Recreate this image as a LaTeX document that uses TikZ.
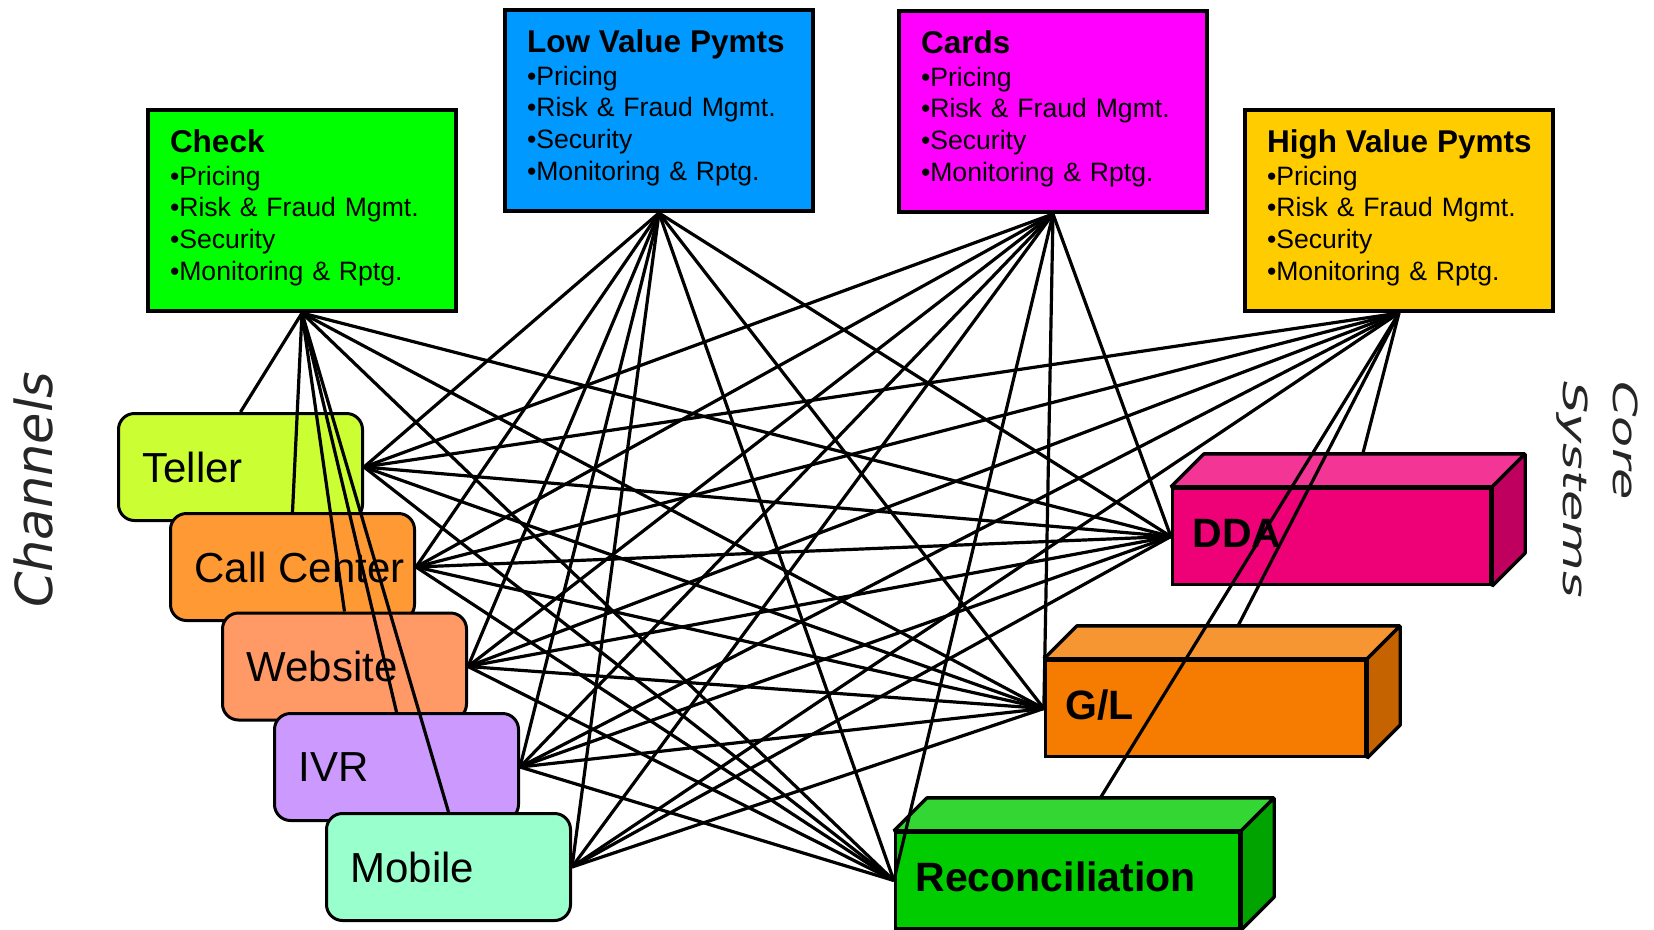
\documentclass[tikz,border=0pt]{standalone}
\usepackage{fontspec}
\setmainfont{Liberation Sans}
\newfontfamily\sidefont{DejaVu Sans}
\usetikzlibrary{positioning,calc}

\definecolor{checkgreen}{HTML}{00FF00}
\definecolor{lowblue}{HTML}{0099FF}
\definecolor{cardpink}{HTML}{FF00FF}
\definecolor{highgold}{HTML}{FFCC00}
\definecolor{tellerlime}{HTML}{CCFF33}
\definecolor{callorange}{HTML}{FF9933}
\definecolor{webpeach}{HTML}{FF9966}
\definecolor{ivrlilac}{HTML}{CC99FF}
\definecolor{mobilemint}{HTML}{99FFCC}
\definecolor{ddafront}{HTML}{EE0077}
\definecolor{ddatop}{HTML}{F33596}
\definecolor{ddaside}{HTML}{BF005F}
\definecolor{glfront}{HTML}{F57C00}
\definecolor{gltop}{HTML}{F59633}
\definecolor{glside}{HTML}{C46300}
\definecolor{recfront}{HTML}{00CC00}
\definecolor{rectop}{HTML}{33D633}
\definecolor{recside}{HTML}{00A300}

\tikzset{
  prodbox/.style={draw, line width=4pt, text width=264pt, inner xsep=22pt, inner ysep=0pt,
    text height=42pt, text depth=159pt, align=left, font=\fontsize{26.6}{31.7}\selectfont},
  chanbox/.style={draw, line width=3pt, rounded corners=16pt, inner xsep=24pt,
    minimum height=107pt, font=\fontsize{42}{48}\selectfont,
    execute at begin node={\hbox to 196pt\bgroup}, execute at end node={\hss\egroup}},
  corebox/.style={draw, line width=3.3pt, inner xsep=20pt, minimum height=96pt,
    text height=22pt, text depth=0pt, align=left, font=\bfseries\fontsize{41}{48}\selectfont},
  link/.style={draw, line width=3.2pt},
  sidelabel/.style={font=\sidefont\itshape\fontsize{51}{58}\selectfont, text=black!85, inner sep=0pt}
}

\newcommand\boxtitle[1]{{\bfseries\fontsize{31.5}{31.7}\selectfont\mbox{#1}}\\[1.3pt]}
\newcommand\coredepth[3]{%
  \filldraw[fill=#2, line width=3.3pt, line join=bevel] (#1.north west) -- ++(33,-33)
    -- ($(#1.north east)+(33,-33)$) -- (#1.north east) -- cycle;
  \filldraw[fill=#3, line width=3.3pt, line join=bevel] (#1.north east) -- ++(33,-33)
    -- ($(#1.south east)+(33,-33)$) -- (#1.south east) -- cycle;}

\begin{document}
\begin{tikzpicture}[x=1pt, y=-1pt, node distance=100pt, on grid,
    every edge/.style={link}]
  \useasboundingbox (0,0) rectangle (1654,929);

  % channels
  \node[chanbox, fill=tellerlime] (Teller) at (240.5,467) {Teller};
  \node[chanbox, fill=callorange] (CallCtr) [below right=100pt and 52pt of Teller] {Call Center};
  \node[chanbox, fill=webpeach] (Website) [below right=99.5pt and 52pt of CallCtr] {Website};
  \node[chanbox, fill=ivrlilac] (IVR) [below right=100.5pt and 52pt of Website] {IVR};
  \node[chanbox, fill=mobilemint] (Mobile) [below right=100pt and 52pt of IVR] {Mobile};

  % payment types
  \node[prodbox, fill=checkgreen] (Check) at (302,210.5)
    {\boxtitle{Check}•Pricing\\•Risk \& Fraud Mgmt.\\•Security\\•Monitoring \& Rptg.};
  \node[prodbox, fill=lowblue] (LowVal) at (659,110.5)
    {\boxtitle{Low Value Pymts}•Pricing\\•Risk \& Fraud Mgmt.\\•Security\\•Monitoring \& Rptg.};
  \node[prodbox, fill=cardpink] (Cards) at (1053,111.5)
    {\boxtitle{Cards}•Pricing\\•Risk \& Fraud Mgmt.\\•Security\\•Monitoring \& Rptg.};
  \node[prodbox, fill=highgold] (HighVal) at (1399,210.5)
    {\boxtitle{High Value Pymts}•Pricing\\•Risk \& Fraud Mgmt.\\•Security\\•Monitoring \& Rptg.};

  % core systems
  \coordinate (ddaC) at (1331.5,536.5);
  \draw[link] (HighVal.south) -- ($(ddaC)+(10,0)$);
  \node[corebox, fill=ddafront, text width=278pt] (DDA) at (ddaC) {DDA};
  \coredepth{DDA}{ddatop}{ddaside}

  \coordinate (glC) at (1205.5,708.5);
  \draw[link] (HighVal.south) -- ($(glC)+(-10,0)$);
  \node[corebox, fill=glfront, text width=280pt] (GL) at (glC) {G/L};
  \coredepth{GL}{gltop}{glside}

  \coordinate (recC) at (1067.5,880.5);
  \draw[link] (HighVal.south) -- ($(recC)+(-18,0)$);
  \node[corebox, fill=recfront, text width=304pt] (Recon) at (recC) {Reconciliation};
  \coredepth{Recon}{rectop}{recside}

  \path (Check.south) edge (Teller.north) edge (CallCtr.north) edge (Website.north)
          edge (IVR.north) edge (Mobile.north)
          edge (DDA.west) edge (GL.west) edge (Recon.west);
  \path (LowVal.south) edge (Teller.east) edge (CallCtr.east) edge (Website.east)
          edge (IVR.east) edge (Mobile.east)
          edge (DDA.west) edge (GL.west) edge (Recon.west);
  \path (Cards.south) edge (Teller.east) edge (CallCtr.east) edge (Website.east)
          edge (IVR.east) edge (Mobile.east)
          edge (DDA.west) edge (GL.west) edge (Recon.west);
  \path (HighVal.south) edge (Teller.east) edge (CallCtr.east) edge (Website.east)
          edge (IVR.east) edge (Mobile.east);
  \foreach \ch in {Teller,CallCtr,Website,IVR}
    \path (\ch.east) edge (DDA.west) edge (GL.west) edge (Recon.west);
  \path (Mobile.east) edge (DDA.west) edge (GL.west);

  \node[sidelabel, rotate=90] (chanLbl) at (33,490) {Channels};
  \node[sidelabel, font=\sidefont\itshape\fontsize{51}{78}\selectfont, rotate=-90, yscale=0.65,
    align=left, anchor=north west] (coreLbl) at (1638.5,381) {Core\\Systems};
\end{tikzpicture}
\end{document}
